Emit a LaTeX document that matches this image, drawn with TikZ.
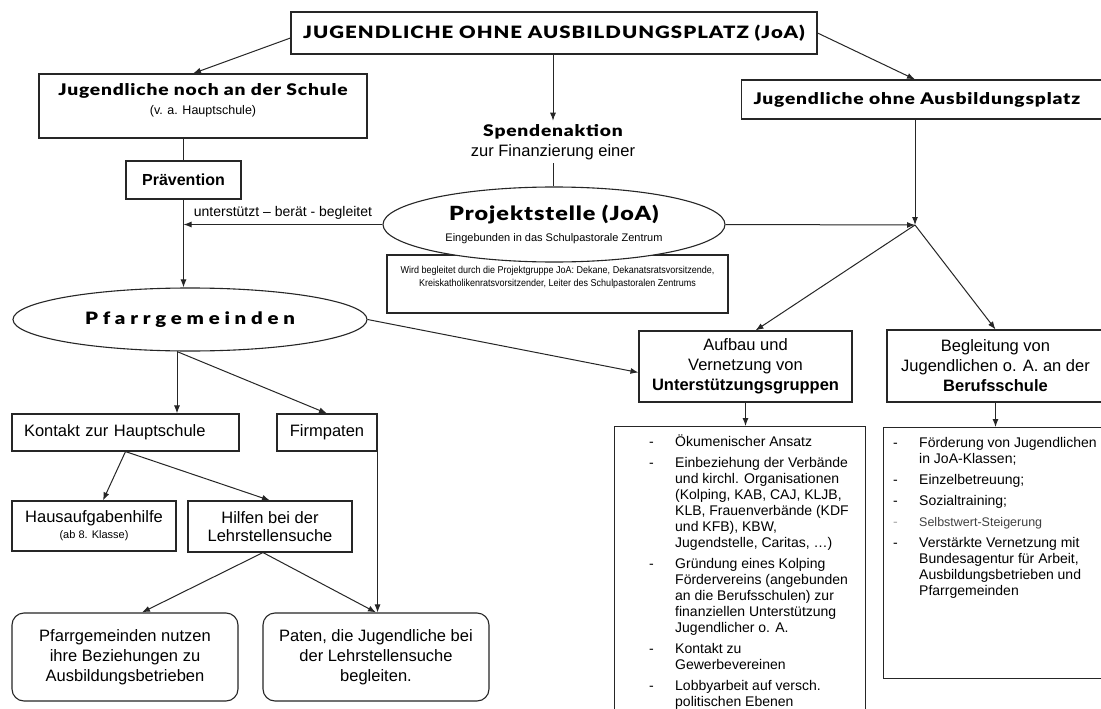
\documentclass[tikz,border=0pt]{standalone}
\usepackage{fontspec}
\setmainfont{Liberation Sans}
\newfontface\heavyfont{Lato Black}[FakeStretch=1.2,LetterSpace=5]
\newfontface\titlefont{Lato Black}[FakeStretch=1.2,LetterSpace=6]
\newfontface\wideheavy{Lato Black}[FakeStretch=1.2,LetterSpace=28]
\newfontface\narrowfont{Liberation Sans}[FakeStretch=0.9]
\usetikzlibrary{positioning,shapes,arrows.meta}

\begin{document}
\begin{tikzpicture}[x=1pt,y=-1pt,>={Latex[length=8pt,width=6pt]},
  box/.style={draw=black!85,line width=1.1pt,rectangle,fill=white,inner sep=3pt},
  oval/.style={draw=black!85,line width=1.1pt,ellipse,fill=white,inner sep=0pt},
  rbox/.style={box,rounded corners=12pt},
  link/.style={->,line width=1pt,draw=black!85},
  txt/.style={font=\fontsize{16.5}{20}\selectfont,align=center},
  list/.style={anchor=north west,inner sep=0pt,font=\fontsize{14}{16}\selectfont}]
  \path[use as bounding box,fill=white] (0,0) rectangle (1101,709);
  \clip (0,0) rectangle (1101,709);

  % top level
  \node[box,minimum width=526,minimum height=42,font=\titlefont\fontsize{17}{20}\selectfont] (top) at (554,33) {JUGENDLICHE OHNE AUSBILDUNGSPLATZ (JoA)};
  \node[box,minimum width=328,minimum height=64,align=center,font=\fontsize{12.5}{19}\selectfont] (school) at (203,106) {{\heavyfont\fontsize{16}{19}\selectfont Jugendliche noch an der Schule}\\(v. a. Hauptschule)\\[-4pt]};
  \node[box,anchor=west,minimum height=39,text width=339,inner xsep=12pt,align=left,font=\heavyfont\fontsize{16}{20}\selectfont] (ohne) at (741,99.5) {Jugendliche ohne Ausbildungsplatz};
  \node[align=center,font=\fontsize{16.5}{20}\selectfont] (spende) at (553,142) {{\heavyfont\fontsize{16}{20}\selectfont Spendenaktion}\\zur Finanzierung einer};
  \coordinate (join) at (915,225);

  % Projektstelle
  \node[box,minimum width=341,minimum height=58,align=center,font=\narrowfont\fontsize{10}{13}\selectfont] (gruppe) at (557.5,284) {Wird begleitet durch die Projektgruppe JoA: Dekane, Dekanatsratsvorsitzende,\\Kreiskatholikenratsvorsitzender, Leiter des Schulpastoralen Zentrums\\[2pt]};
  \node[oval,minimum width=342,minimum height=75,align=center,font=\fontsize{11}{21}\selectfont] (projekt) at (554,224.5) {{\heavyfont\fontsize{19.5}{21}\selectfont Projektstelle (JoA)}\\Eingebunden in das Schulpastorale Zentrum};

  \node[box,minimum width=115,minimum height=38,font=\bfseries\fontsize{16}{20}\selectfont] (praev) at (183.5,180) {Prävention};
  \node[oval,minimum width=354,minimum height=63,font=\wideheavy\fontsize{17}{20}\selectfont] (pfarr) at (190,319.5) {Pfarrgemeinden\hspace{34pt}};

  % right branch
  \node[box,txt,minimum width=213,minimum height=71] (aufbau) at (745.5,366.5) {Aufbau und\\Vernetzung von\\\textbf{Unterstützungsgruppen}};
  \node[box,txt,minimum width=217,minimum height=72] (beglei) at (995.5,366) {Begleitung von\\Jugendlichen o. A. an der\\\textbf{Berufsschule}};
  \node[box,anchor=north west,minimum width=251,minimum height=300] (ulist) at (614,426) {};
  \node[box,anchor=north west,minimum width=227,minimum height=251] (blist) at (883,427) {};

  \node[list] (ulisttext) at (649,435) {\begin{tabular}{@{}p{26pt}@{}l@{}}
    - & Ökumenischer Ansatz\\[5pt]
    - & Einbeziehung der Verbände\\
      & und kirchl. Organisationen\\
      & (Kolping, KAB, CAJ, KLJB,\\
      & KLB, Frauenverbände (KDF\\
      & und KFB), KBW,\\
      & Jugendstelle, Caritas, …)\\[5pt]
    - & Gründung eines Kolping\\
      & Fördervereins (angebunden\\
      & an die Berufsschulen) zur\\
      & finanziellen Unterstützung\\
      & Jugendlicher o. A.\\[5pt]
    - & Kontakt zu\\
      & Gewerbevereinen\\[5pt]
    - & Lobbyarbeit auf versch.\\
      & politischen Ebenen
  \end{tabular}};
  \node[list] (blisttext) at (893,436) {\begin{tabular}{@{}p{26pt}@{}l@{}}
    - & Förderung von Jugendlichen\\
      & in JoA-Klassen;\\[5pt]
    - & Einzelbetreuung;\\[5pt]
    - & Sozialtraining;\\[5pt]
    \textcolor{black!35}{-} & \textcolor{black!75}{\fontsize{12.5}{16}\selectfont Selbstwert-Steigerung}\\[5pt]
    - & Verstärkte Vernetzung mit\\
      & Bundesagentur für Arbeit,\\
      & Ausbildungsbetrieben und\\
      & Pfarrgemeinden
  \end{tabular}};

  % left branch
  \node[box,minimum height=37,text width=203,inner xsep=12pt,align=left,font=\fontsize{16.5}{20}\selectfont] (kontakt) at (125.5,432.5) {Kontakt zur Hauptschule};
  \node[box,txt,minimum width=100,minimum height=37] (firm) at (327,432.5) {Firmpaten};
  \node[box,align=center,minimum width=164,minimum height=50,font=\fontsize{11}{16}\selectfont] (haus) at (94,526) {{\fontsize{16.5}{16}\selectfont Hausaufgabenhilfe}\\(ab 8. Klasse)};
  \node[box,txt,minimum width=164,minimum height=51,font=\fontsize{16.5}{18}\selectfont] (hilfen) at (270,526.5) {Hilfen bei der\\Lehrstellensuche};
  \node[rbox,txt,minimum width=226,minimum height=88] (nutzen) at (125,657) {Pfarrgemeinden nutzen\\ihre Beziehungen zu\\Ausbildungsbetrieben};
  \node[rbox,txt,minimum width=226,minimum height=88] (paten) at (376,657) {Paten, die Jugendliche bei\\der Lehrstellensuche\\begleiten.};

  % connectors
  \draw[link] ([yshift=-5pt]top.west) -- ([xshift=-10pt]school.north);
  \draw[link] (spende.north |- top.south) -- (spende.north);
  \draw[link] (top.east) -- (join |- ohne.north);
  \draw[line width=1pt,draw=black!85] (spende.south) -- (spende.south |- projekt.north);
  \draw[line width=1pt,draw=black!85] (praev.north) -- (praev.north |- school.south);
  \draw[link] (praev.south) -- (praev.south |- pfarr.north);
  \draw[link] (projekt.west) -- (projekt.west -| praev.south)
    node[midway,above=1pt,font=\fontsize{14}{16}\selectfont] (stuetzt) {unterstützt – berät - begleitet};
  \draw[link] (join |- ohne.south) -- (join);
  \draw[link] (projekt.east) -- (join);
  \draw[link] (join) -- ([xshift=10pt]aufbau.north);
  \draw[link] (join) -- (beglei.north);
  \draw[link] (pfarr.east) -- ([yshift=-6pt]aufbau.west);
  \draw[link] (aufbau.south) -- (aufbau.south |- ulist.north);
  \draw[link] (beglei.south) -- (beglei.south |- blist.north);
  \draw[link] ([xshift=-13pt]pfarr.south) -- ([xshift=-13pt]pfarr.south |- kontakt.north);
  \draw[link] ([xshift=-13pt]pfarr.south) -- (firm.north);
  \draw[link] (kontakt.south) -- ([xshift=9pt]haus.north);
  \draw[link] (kontakt.south) -- (hilfen.north);
  \draw[link] ([xshift=-7pt]hilfen.south) -- ([xshift=17pt]nutzen.north);
  \draw[link] ([xshift=-7pt]hilfen.south) -- (paten.north);
  \draw[link] (firm.south east) -- (firm.south east |- paten.north);
\end{tikzpicture}
\end{document}
